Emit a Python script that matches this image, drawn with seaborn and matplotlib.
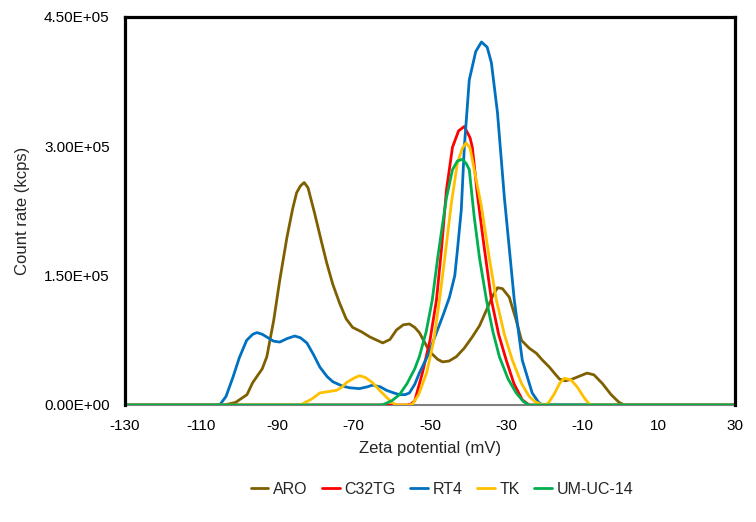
import pandas as pd
import matplotlib
matplotlib.use('Agg')
import matplotlib.pyplot as plt
from matplotlib.ticker import FuncFormatter, FixedLocator, MultipleLocator
import seaborn as sns

# values (x in mV, y in units of 1e5 kcps)
aro_x = [-130, -104, -101, -98, -96.5, -94, -92.8, -91, -89.4, -87.5, -86, -85, -84, -83, -82,
         -80.3, -78.5, -77.1, -75.5, -73.7, -72, -70.3, -68, -65.8, -62.4, -60.5, -58.8, -57,
         -55.4, -54, -52.8, -50.1, -48, -46.7, -45, -43.1, -41, -38.9, -37, -35.2, -33.5, -32.3,
         -31, -29.2, -27.5, -26, -24, -22.1, -20.5, -18.7, -17, -16, -14.5, -12.7, -10.5, -8.8,
         -7, -4.8, -2.5, -0.4, 1, 30]
aro_y = [0, 0, 0.03, 0.12, 0.26, 0.42, 0.56, 0.98, 1.45, 1.95, 2.28, 2.46, 2.54, 2.58, 2.52,
         2.23, 1.9, 1.65, 1.40, 1.18, 1.0, 0.90, 0.85, 0.79, 0.72, 0.76, 0.87, 0.93,
         0.94, 0.90, 0.84, 0.62, 0.53, 0.50, 0.51, 0.56, 0.66, 0.79, 0.92, 1.10, 1.27, 1.36,
         1.35, 1.25, 1.0, 0.75, 0.66, 0.60, 0.52, 0.44, 0.35, 0.30, 0.28, 0.30, 0.34, 0.37,
         0.35, 0.25, 0.12, 0.03, 0, 0]

c32_x = [-130, -56, -55, -54, -52, -50, -48.3, -47, -45.7, -44.1, -42.5, -41, -39.5, -38.9,
         -37.6, -36, -33.9, -32, -30, -28, -25.8, -24, 30]
c32_y = [0, 0, 0.01, 0.05, 0.37, 0.75, 1.22, 1.8, 2.49, 2.99, 3.18, 3.23, 3.1, 2.99,
         2.45, 1.9, 1.22, 0.82, 0.52, 0.25, 0.06, 0, 0]

rt4_x = [-130, -106, -105, -103.5, -101.7, -100, -98.1, -96.5, -95.4, -94, -92.5, -91, -89.4,
         -87.5, -85.5, -84, -82.3, -80.5, -78.9, -77, -75.5, -73, -71.1, -68.5, -66.5, -65.1,
         -63, -61.4, -59.5, -58, -56.5, -55.4, -54, -52.8, -50.5, -48.3, -46.5, -44.9, -43.5,
         -42.8, -41.8, -41, -39.7, -38, -36.5, -35, -33.9, -32.3, -30.5, -27.9, -25.8, -23.2,
         -21.5, -20.5, 30]
rt4_y = [0, 0, 0.01, 0.1, 0.32, 0.55, 0.75, 0.82, 0.84, 0.82, 0.78, 0.74, 0.73,
         0.77, 0.80, 0.78, 0.72, 0.58, 0.44, 0.33, 0.27, 0.22, 0.20, 0.19, 0.21, 0.23,
         0.21, 0.17, 0.14, 0.12, 0.12, 0.14, 0.24, 0.37, 0.58, 0.84, 1.05, 1.25, 1.5,
         1.8, 2.26, 2.99, 3.77, 4.1, 4.21, 4.15, 3.97, 3.39, 2.41, 1.22, 0.52, 0.14,
         0.03, 0, 0]

tk_x = [-130, -84, -81, -78.9, -76, -74.5, -73, -71.9, -70, -68.5, -67, -65.1, -63, -61.4,
        -60, -58.8, -55.5, -54.6, -53, -50.9, -49, -47.5, -46, -44.4, -42.8, -41.5, -40.5,
        -39.5, -38.4, -36.5, -34.5, -32.6, -30.5, -28.4, -26, -24, -22.5, -21, -20, -19,
        -17.5, -16, -14.8, -13, -11.4, -9.5, -8.2, -7.5, 30]
tk_y = [0, 0, 0.07, 0.14, 0.16, 0.17, 0.21, 0.26, 0.31, 0.34, 0.32, 0.26, 0.16, 0.09,
        0.03, 0, 0, 0.01, 0.12, 0.37, 0.75, 1.22, 1.75, 2.34, 2.81, 2.98, 3.04,
        2.98, 2.73, 2.3, 1.72, 1.22, 0.82, 0.52, 0.25, 0.10, 0.04, 0.01, 0, 0.02,
        0.12, 0.25, 0.31, 0.29, 0.21, 0.08, 0.01, 0, 0]

um_x = [-130, -63, -62, -60, -58, -56, -54, -52.8, -51, -49.4, -48, -46.7, -45.7, -44.1,
        -42.8, -41.5, -40.5, -39.7, -38.4, -37, -35.2, -33.5, -31.8, -29.5, -27.4, -25.5,
        -24, 30]
um_y = [0, 0, 0.01, 0.05, 0.12, 0.25, 0.42, 0.56, 0.85, 1.22, 1.7, 2.1, 2.4, 2.73,
        2.83, 2.85, 2.8, 2.73, 2.18, 1.7, 1.22, 0.85, 0.56, 0.3, 0.14, 0.04, 0, 0]

x_ticks = [-130, -110, -90, -70, -50, -30, -10, 10, 30]

names = ['ARO', 'C32TG', 'RT4', 'TK', 'UM-UC-14']
colors = ['#7F6000', '#FF0000', '#0070C0', '#FFC000', '#00B050']
xs = [aro_x, c32_x, rt4_x, tk_x, um_x]
ys = [aro_y, c32_y, rt4_y, tk_y, um_y]

frames = []
for n, x, y in zip(names, xs, ys):
    frames.append(pd.DataFrame({'zeta': x, 'count': [v * 1e5 for v in y], 'sample': n}))
df = pd.concat(frames, ignore_index=True)

sns.set_style('white')
plt.rcParams['font.family'] = ['Liberation Sans', 'DejaVu Sans']
plt.rcParams['axes.unicode_minus'] = False

fig = plt.figure(figsize=(7.56, 5.22), dpi=100)
ax = fig.add_axes([125 / 756, 1 - 405 / 522, 610 / 756, 388 / 522])

sns.lineplot(data=df, x='zeta', y='count', hue='sample', palette=colors,
             hue_order=names, sort=False, estimator=None, linewidth=2.0, ax=ax)

ax.set_xlim(-130, 30)
ax.set_ylim(0, 4.5e5)
ax.xaxis.set_major_locator(FixedLocator(x_ticks))
ax.yaxis.set_major_locator(MultipleLocator(1.5e5))
ax.yaxis.set_major_formatter(FuncFormatter(lambda v, p: f'{v:.2E}'))
ax.tick_params(axis='both', length=0, labelsize=11, colors='black')
ax.tick_params(axis='y', pad=11)
ax.tick_params(axis='x', pad=10)

for s in ['left', 'top', 'right']:
    ax.spines[s].set_color('black')
    ax.spines[s].set_linewidth(2.3)
ax.spines['bottom'].set_color('#7f7f7f')
ax.spines['bottom'].set_linewidth(1.5)
ax.spines['bottom'].set_zorder(0)

ax.set_xlabel('Zeta potential (mV)', fontsize=12, labelpad=6)
ax.set_ylabel('Count rate (kcps)', fontsize=12, labelpad=10)

ax.legend_.remove()
handles, labels = ax.get_legend_handles_labels()
fig.legend(handles, labels, loc='center', bbox_to_anchor=(442 / 756, 1 - 489 / 522),
           ncol=5, frameon=False, fontsize=11.5, handlelength=1.1, handletextpad=0.3,
           columnspacing=0.9)

fig.savefig('out.png', dpi=100)
